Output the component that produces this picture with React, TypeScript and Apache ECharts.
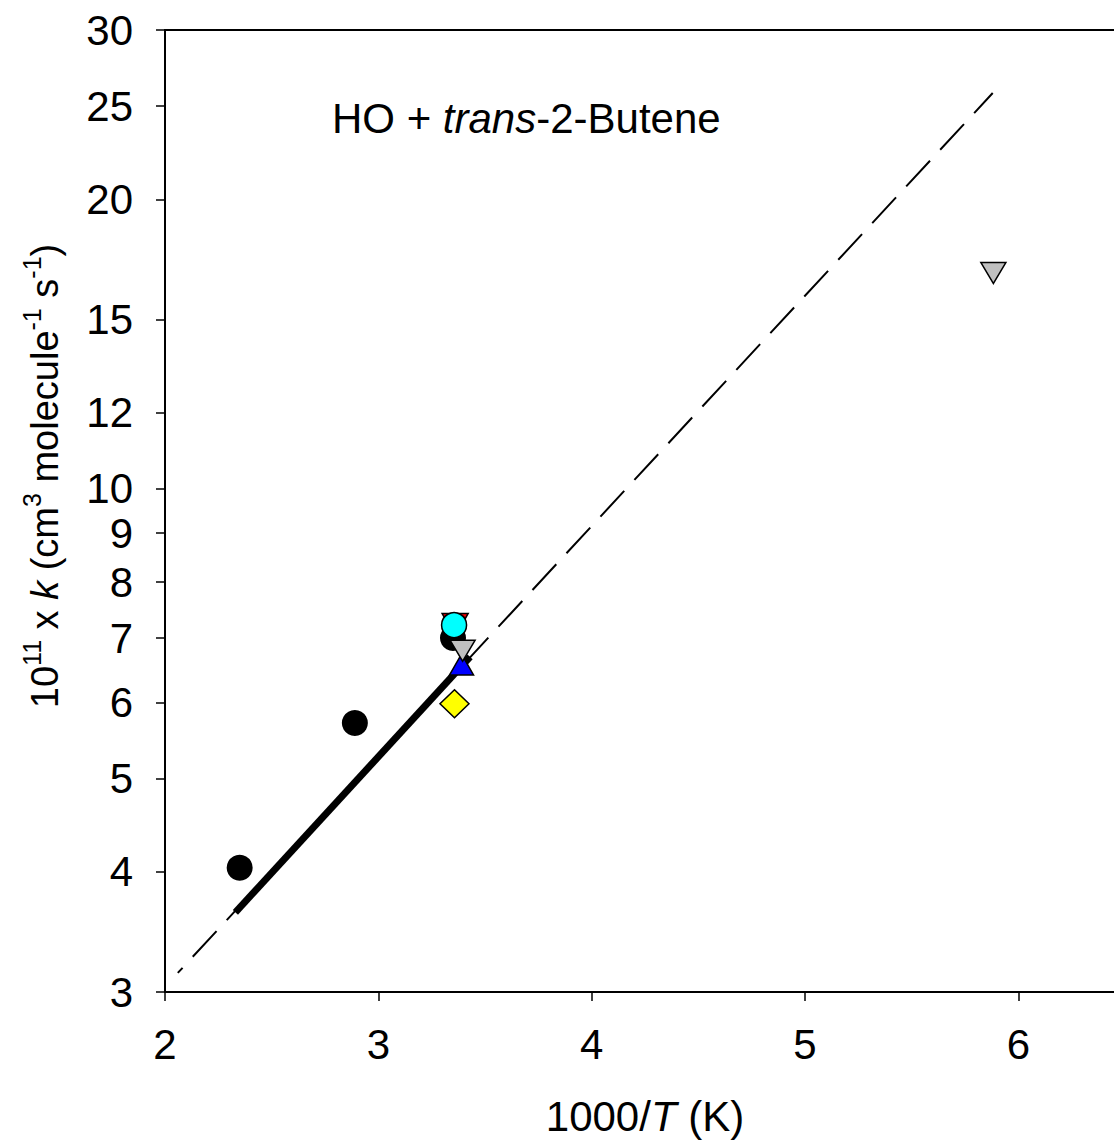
import React, { useEffect, useRef } from "react";
import * as echarts from "echarts";

const FONT = "'Liberation Sans', Arial, Helvetica, sans-serif";

// Axis ticks
const xTickValues = [2, 3, 4, 5, 6];
const yTickValues = [3, 4, 5, 6, 7, 8, 9, 10, 12, 15, 20, 25, 30];

// Data: [1000/T, 10^11 k]
const blackCircles = [
  [2.35, 4.04],
  [2.89, 5.71],
  [3.35, 7.0],
];
const redTriangles = [[3.36, 7.22]];
const cyanCircles = [[3.355, 7.22]];
const blueTriangles = [[3.39, 6.57]];
const grayTriangles = [
  [3.395, 6.79],
  [5.883, 16.77],
];
const yellowDiamonds = [[3.357, 5.98]];
const fitMeasured = [
  [2.33, 3.63],
  [3.43, 6.69],
];
const fitExtrapolated = [
  [2.06, 3.14],
  [5.88, 25.8],
];

export default function App() {
  const ref = useRef<HTMLDivElement>(null);

  useEffect(() => {
    if (!ref.current) return;
    const chart = echarts.init(ref.current, undefined, { renderer: "svg" });
    const yTickLogs = yTickValues.map((v) => Math.log10(v));
    const labelFor = (v: number) => {
      let best = 0;
      for (let i = 0; i < yTickLogs.length; i++) {
        if (Math.abs(yTickLogs[i] - v) < Math.abs(yTickLogs[best] - v)) best = i;
      }
      return String(yTickValues[best]);
    };
    const sym = (color: string) => ({
      color,
      opacity: 1,
      borderColor: "#000",
      borderWidth: 1.5,
    });
    const rich = (size: number, lh: number, sup: number) => ({
      n: { fontFamily: FONT, fontSize: size, color: "#000", lineHeight: lh },
      i: { fontFamily: FONT, fontSize: size, color: "#000", fontStyle: "italic", lineHeight: lh },
      s: { fontFamily: FONT, fontSize: sup, color: "#000", verticalAlign: "top", lineHeight: sup + 1 },
    });

    chart.setOption({
      animation: false,
      backgroundColor: "#fff",
      grid: {
        left: 165,
        top: 30,
        width: 960,
        height: 962,
        show: true,
        borderColor: "#000",
        borderWidth: 2,
        containLabel: false,
        outerBoundsMode: "none",
      },
      xAxis: {
        type: "value",
        min: 2,
        max: 6.5,
        interval: 1,
        axisLine: { show: true, onZero: false, lineStyle: { color: "#000", width: 2 } },
        axisTick: { show: true, length: 9, customValues: xTickValues, lineStyle: { color: "#000", width: 1.5 } },
        axisLabel: {
          show: true,
          margin: 31,
          fontFamily: FONT,
          fontSize: 42,
          color: "#000",
          customValues: xTickValues,
        },
        splitLine: { show: false },
        name: "{n|1000/}{i|T}{n| (K)}",
        nameLocation: "middle",
        nameGap: 103,
        nameTextStyle: { fontFamily: FONT, fontSize: 42, color: "#000", rich: rich(42, 42, 28) },
      },
      yAxis: [
        {
          type: "log",
          logBase: 10,
          min: 3,
          max: 30,
          position: "left",
          axisLine: { show: false },
          axisTick: { show: false },
          axisLabel: { show: false },
          splitLine: { show: false },
          minorTick: { show: false },
        },
        {
          type: "value",
          min: Math.log10(3),
          max: Math.log10(30),
          position: "left",
          axisLine: { show: true, onZero: false, lineStyle: { color: "#000", width: 2 } },
          axisTick: { show: true, length: 9, customValues: yTickLogs, lineStyle: { color: "#000", width: 1.5 } },
          axisLabel: {
            show: true,
            margin: 32,
            customValues: yTickLogs,
            formatter: (v: number) => labelFor(v),
            fontFamily: FONT,
            fontSize: 42,
            color: "#000",
          },
          splitLine: { show: false },
        },
      ],
      graphic: [
        {
          type: "text",
          x: 332,
          y: 118,
          style: {
            text: "{n|HO + }{i|trans}{n|-2-Butene}",
            verticalAlign: "middle",
            align: "left",
            fontFamily: FONT,
            fontSize: 42,
            fill: "#000",
            rich: rich(42, 42, 28),
          },
        },
        {
          type: "text",
          x: 45,
          y: 476,
          rotation: Math.PI / 2,
          style: {
            text: "{n|10}{s|11}{n| x }{i|k}{n| (cm}{s|3}{n| molecule}{s|-1}{n| s}{s|-1}{n|)}",
            verticalAlign: "middle",
            align: "center",
            fontFamily: FONT,
            fontSize: 38,
            fill: "#000",
            rich: rich(38, 52, 25),
          },
        },
      ],
      series: [
        {
          type: "line",
          yAxisIndex: 0,
          data: fitExtrapolated,
          symbol: "none",
          lineStyle: { color: "#000", width: 2, type: [35, 15], dashOffset: 28 },
          z: 1,
        },
        {
          type: "line",
          yAxisIndex: 0,
          data: fitMeasured,
          symbol: "none",
          lineStyle: { color: "#000", width: 7, cap: "butt" },
          z: 2,
        },
        {
          type: "scatter",
          yAxisIndex: 0,
          data: blackCircles,
          symbol: "circle",
          symbolSize: 26,
          itemStyle: { color: "#000", opacity: 1 },
          z: 3,
        },
        {
          type: "scatter",
          yAxisIndex: 0,
          data: redTriangles,
          symbol: "triangle",
          symbolRotate: 180,
          symbolSize: [26, 23],
          itemStyle: sym("#FF0000"),
          z: 4,
        },
        {
          type: "scatter",
          yAxisIndex: 0,
          data: cyanCircles,
          symbol: "circle",
          symbolSize: 25,
          itemStyle: sym("#00FFFF"),
          z: 5,
        },
        {
          type: "scatter",
          yAxisIndex: 0,
          data: blueTriangles,
          symbol: "triangle",
          symbolSize: [24, 21],
          itemStyle: sym("#0000FF"),
          z: 6,
        },
        {
          type: "scatter",
          yAxisIndex: 0,
          data: grayTriangles,
          symbol: "triangle",
          symbolRotate: 180,
          symbolSize: [25, 21],
          itemStyle: sym("#C0C0C0"),
          z: 7,
        },
        {
          type: "scatter",
          yAxisIndex: 0,
          data: yellowDiamonds,
          symbol: "diamond",
          symbolSize: [29, 28],
          itemStyle: sym("#FFFF00"),
          z: 8,
        },
      ],
    });
    return () => chart.dispose();
  }, []);

  return (
    <div
      ref={ref}
      style={{ position: "absolute", left: 0, top: 0, width: 1114, height: 1142, overflow: "hidden" }}
    />
  );
}
